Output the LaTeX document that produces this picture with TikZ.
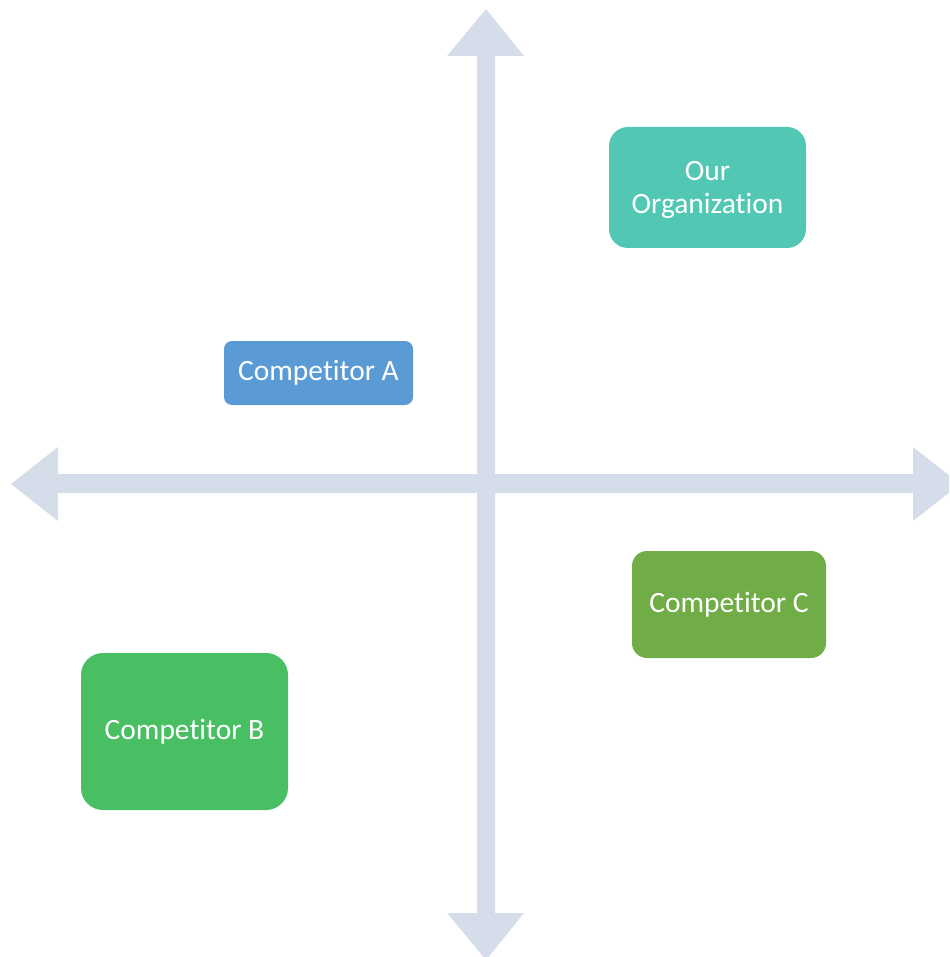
\documentclass[tikz,border=0pt]{standalone}
\usepackage{fontspec}
\setmainfont{Carlito}[Ligatures={NoCommon,NoDiscretionary,NoContextual}]
\definecolor{axiscol}{HTML}{D5DDEA}
\definecolor{orgcol}{HTML}{52C8B4}
\definecolor{acol}{HTML}{5B9BD5}
\definecolor{ccol}{HTML}{70AD47}
\definecolor{bcol}{HTML}{48BF63}
\begin{document}
\begin{tikzpicture}[x=1pt,y=-1pt,
  box/.style={draw=none,text=white,inner sep=0pt,align=center,
    font=\fontsize{29.5}{32.5}\selectfont},
  axisshape/.style={fill=axiscol,draw=none}]
\useasboundingbox (0,0) rectangle (949,957);
\clip (0,0) rectangle (949,957);
% vertical axis
\fill[axiscol] (477,56) -- (447,56) -- (486,9) -- (524,56) -- (495,56)
  -- (495,913) -- (524,913) -- (486,960) -- (447,913) -- (477,913) -- cycle;
% horizontal axis
\fill[axiscol] (58,474) -- (58,447) -- (11,484) -- (58,521) -- (58,493)
  -- (913,493) -- (913,521) -- (960,484) -- (913,447) -- (913,474) -- cycle;
% boxes
\node[box,fill=orgcol,rounded corners=19pt,minimum width=197pt,minimum height=121pt]
  (org) at (707.5,187.5) {\raisebox{-3pt}[\height][\depth]{\begin{tabular}{@{}c@{}}Our\\Organization\end{tabular}}};
\node[box,fill=acol,rounded corners=8pt,minimum width=189pt,minimum height=64pt]
  (compa) at (318.5,373) {Competitor A};
\node[box,fill=ccol,rounded corners=15pt,minimum width=194pt,minimum height=107pt]
  (compc) at (729,604.5) {Competitor C};
\node[box,fill=bcol,rounded corners=22pt,minimum width=207pt,minimum height=157pt]
  (compb) at (184.5,731.5) {Competitor B};
\end{tikzpicture}
\end{document}
